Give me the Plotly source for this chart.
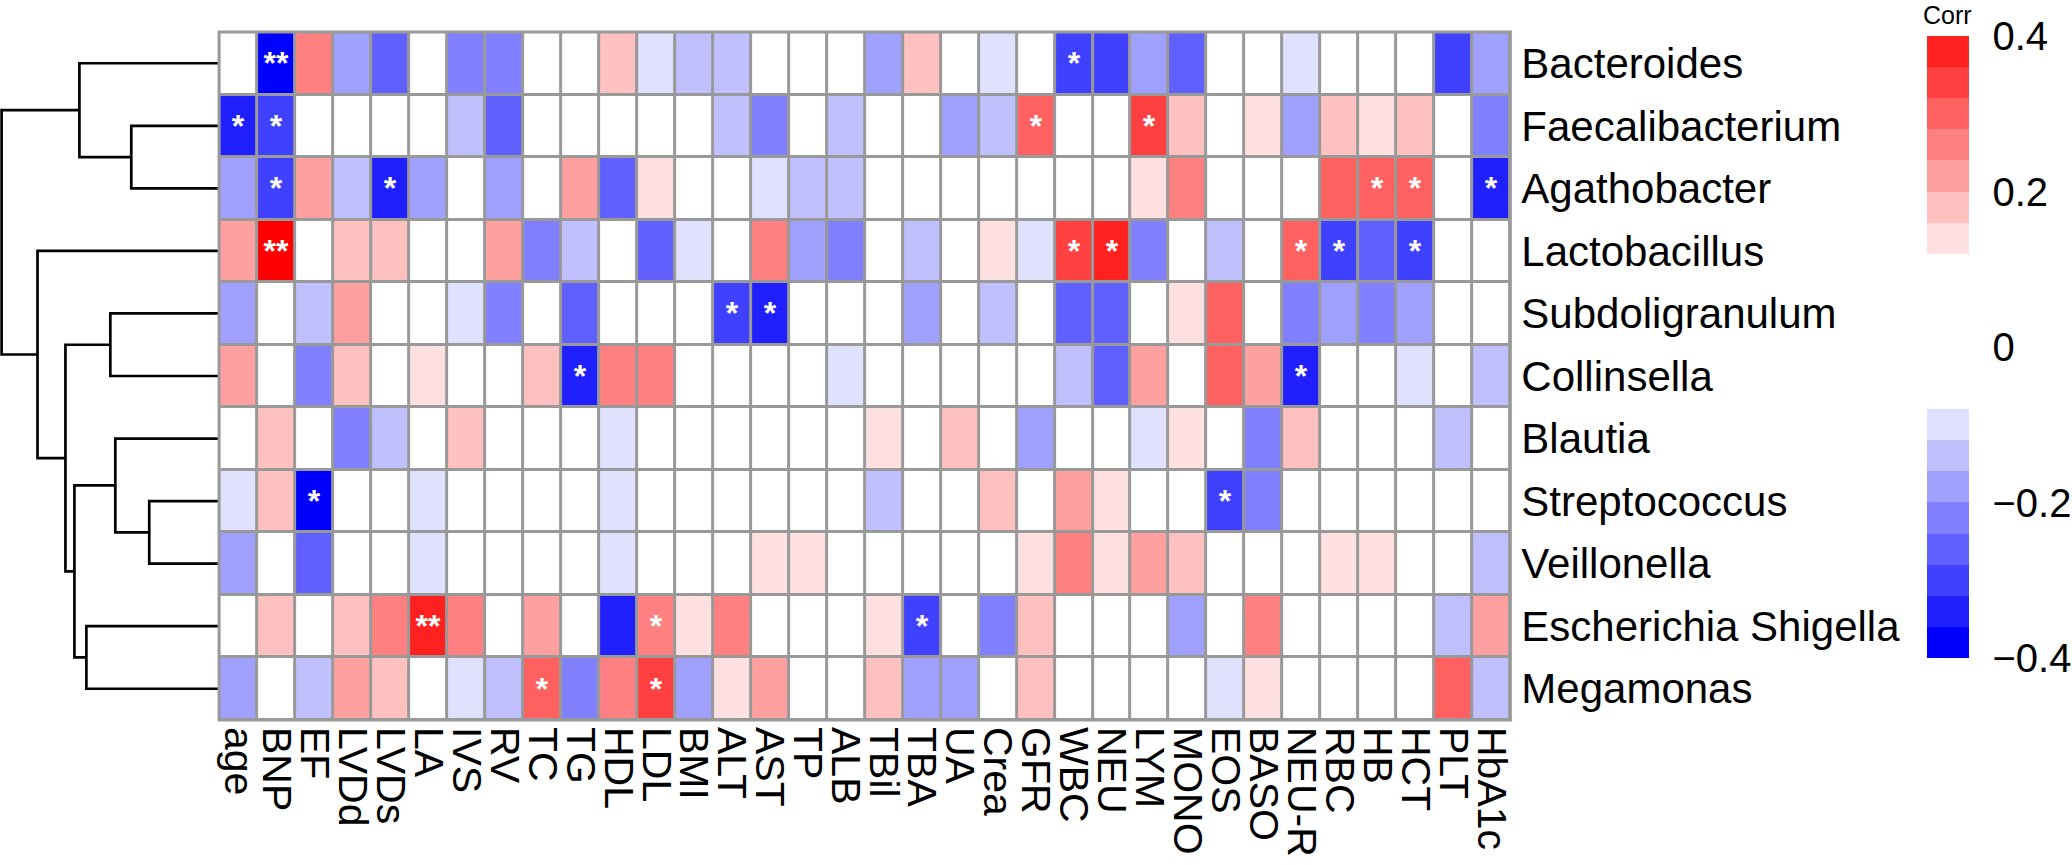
import plotly.graph_objects as go

# columns (clinical variables) and rows (genera), in display order
variables = ["age", "BNP", "EF", "LVDd", "LVDs", "LA", "IVS", "RV", "TC", "TG",
             "HDL", "LDL", "BMI", "ALT", "AST", "TP", "ALB", "TBil", "TBA", "UA",
             "Crea", "GFR", "WBC", "NEU", "LYM", "MONO", "EOS", "BASO", "NEU-R",
             "RBC", "HB", "HCT", "PLT", "HbA1c"]
genera = ["Bacteroides", "Faecalibacterium", "Agathobacter", "Lactobacillus",
          "Subdoligranulum", "Collinsella", "Blautia", "Streptococcus",
          "Veillonella", "Escherichia Shigella", "Megamonas"]

# correlation estimates (one list per genus)
bacteroides = [0, -0.38, 0.26, -0.18, -0.26, 0, -0.22, -0.22, 0, 0,
               0.18, -0.10, -0.14, -0.14, 0, 0, 0, -0.18, 0.18, 0,
               -0.10, 0, -0.30, -0.30, -0.18, -0.26, 0, 0, -0.10,
               0, 0, 0, -0.30, -0.18]
faecalibacterium = [-0.34, -0.30, 0, 0, 0, 0, -0.14, -0.26, 0, 0,
                    0, 0, 0, -0.14, -0.22, 0, -0.14, 0, 0, -0.18,
                    -0.14, 0.30, 0, 0, 0.34, 0.18, 0, 0.14, -0.18,
                    0.18, 0.14, 0.18, 0, -0.22]
agathobacter = [-0.18, -0.30, 0.22, -0.14, -0.34, -0.18, 0, -0.18, 0, 0.22,
                -0.26, 0.14, 0, 0, -0.10, -0.14, -0.14, 0, 0, 0,
                0, 0, 0, 0, 0.14, 0.26, 0, 0, 0,
                0.30, 0.30, 0.30, 0, -0.34]
lactobacillus = [0.22, 0.42, 0, 0.18, 0.18, 0, 0, 0.22, -0.22, -0.14,
                 0, -0.26, -0.10, 0, 0.26, -0.18, -0.22, 0, -0.14, 0,
                 0.14, -0.10, 0.34, 0.38, -0.22, 0, -0.14, 0, 0.30,
                 -0.30, -0.26, -0.30, 0, 0]
subdoligranulum = [-0.18, 0, -0.14, 0.22, 0, 0, -0.10, -0.22, 0, -0.26,
                   0, 0, 0, -0.30, -0.34, 0, 0, 0, -0.18, 0,
                   -0.14, 0, -0.26, -0.26, 0, 0.14, 0.30, 0, -0.22,
                   -0.18, -0.22, -0.18, 0, 0]
collinsella = [0.22, 0, -0.22, 0.18, 0, 0.14, 0, 0, 0.18, -0.34,
               0.26, 0.26, 0, 0, 0, 0, -0.10, 0, 0, 0,
               0, 0, -0.14, -0.26, 0.22, 0, 0.30, 0.22, -0.34,
               0, 0, -0.10, 0, -0.14]
blautia = [0, 0.18, 0, -0.22, -0.14, 0, 0.18, 0, 0, 0,
           -0.10, 0, 0, 0, 0, 0, 0, 0.14, 0, 0.18,
           0, -0.18, 0, 0, -0.10, 0.14, 0, -0.22, 0.18,
           0, 0, 0, -0.14, 0]
streptococcus = [-0.10, 0.18, -0.38, 0, 0, -0.10, 0, 0, 0, 0,
                 -0.10, 0, 0, 0, 0, 0, 0, -0.14, 0, 0,
                 0.18, 0, 0.22, 0.14, 0, 0, -0.30, -0.22, 0,
                 0, 0, 0, 0, 0]
veillonella = [-0.18, 0, -0.26, 0, 0, -0.10, 0, 0, 0, 0,
               -0.10, 0, 0, 0, 0.14, 0.14, 0, 0, 0, 0,
               0, 0.14, 0.26, 0.14, 0.22, 0.18, 0, 0, 0,
               0.14, 0.14, 0, 0, -0.14]
escherichia = [0, 0.18, 0, 0.18, 0.26, 0.38, 0.26, 0, 0.22, 0,
               -0.34, 0.26, 0.14, 0.26, 0, 0, 0, 0.14, -0.30, 0,
               -0.22, 0.18, 0, 0, 0, -0.18, 0, 0.26, 0,
               0, 0, 0, -0.14, 0.22]
megamonas = [-0.18, 0, -0.14, 0.22, 0.18, 0, -0.10, -0.14, 0.30, -0.22,
             0.26, 0.34, -0.18, 0.14, 0.22, 0, 0, 0.18, -0.18, -0.18,
             0, 0.18, 0, 0, 0, 0, -0.10, 0.14, 0,
             0, 0, 0, 0.30, -0.14]

# significance marks (genus, variable, mark)
signif = [
    ("Bacteroides", "BNP", "**"), ("Bacteroides", "WBC", "*"),
    ("Faecalibacterium", "age", "*"), ("Faecalibacterium", "BNP", "*"),
    ("Faecalibacterium", "GFR", "*"), ("Faecalibacterium", "LYM", "*"),
    ("Agathobacter", "BNP", "*"), ("Agathobacter", "LVDs", "*"),
    ("Agathobacter", "HB", "*"), ("Agathobacter", "HCT", "*"),
    ("Agathobacter", "HbA1c", "*"),
    ("Lactobacillus", "BNP", "**"), ("Lactobacillus", "WBC", "*"),
    ("Lactobacillus", "NEU", "*"), ("Lactobacillus", "NEU-R", "*"),
    ("Lactobacillus", "RBC", "*"), ("Lactobacillus", "HCT", "*"),
    ("Subdoligranulum", "ALT", "*"), ("Subdoligranulum", "AST", "*"),
    ("Collinsella", "TG", "*"), ("Collinsella", "NEU-R", "*"),
    ("Streptococcus", "EF", "*"), ("Streptococcus", "EOS", "*"),
    ("Escherichia Shigella", "LA", "**"), ("Escherichia Shigella", "LDL", "*"),
    ("Escherichia Shigella", "TBA", "*"),
    ("Megamonas", "TC", "*"), ("Megamonas", "LDL", "*"),
]

# row clustering: (left, right, height); leaves are row indices, "mN" = merge N
merges = [(7, 8, 70), (1, 2, 88), (6, "m0", 104), (4, 5, 109), (9, 10, 133),
          (0, "m1", 140), ("m2", "m4", 145), ("m3", "m6", 154), (3, "m7", 182),
          ("m5", "m8", 218)]

# colour bins of 0.04 from -0.40 (pheatmap style blue-white-red)
bin_colors = ["#0000FF", "#2020FF", "#4040FF", "#6060FF", "#8080FF", "#A0A0FF",
              "#C0C0FF", "#E0E0FF", "#FFFFFF", "#FFFFFF", "#FFFFFF", "#FFFFFF",
              "#FFFFFF", "#FFE0E0", "#FFC0C0", "#FFA0A0", "#FF8080", "#FF6060",
              "#FF4040", "#FF2020", "#FF0000"]


def step_scale(colors):
    n = len(colors)
    scale = []
    for i, c in enumerate(colors):
        scale.append([i / n, c])
        scale.append([(i + 1) / n, c])
    return scale


z = [bacteroides, faecalibacterium, agathobacter, lactobacillus, subdoligranulum,
     collinsella, blautia, streptococcus, veillonella, escherichia, megamonas]
text = [["" for _ in variables] for _ in genera]
for g, v, mark in signif:
    text[genera.index(g)][variables.index(v)] = mark

W, H = 2072, 865
FONT = "Liberation Sans, Arial, sans-serif"
GRID = "#999999"
left_px, right_px, top_px, bottom_px = 219.6, 1514, 32, 720
x0d, x1d = left_px / W, right_px / W
y0d, y1d = 1 - bottom_px / H, 1 - top_px / H

fig = go.Figure()

fig.add_trace(go.Heatmap(
    z=z, x=list(range(len(variables))), y=list(range(len(genera))),
    text=text, texttemplate="%{text}",
    textfont=dict(family=FONT, size=32, color="white", weight="bold"),
    colorscale=step_scale(bin_colors), zmin=-0.40, zmax=0.44,
    showscale=False, xgap=3, ygap=3, hoverinfo="skip",
))

# dendrogram lines built from the merge list
pos = {}
for i in range(len(genera)):
    pos[i] = (i, 0)
dx, dy = [], []
for k, (a, b, h) in enumerate(merges):
    ya, ha = pos[a]
    yb, hb = pos[b]
    dx += [ha, h, h, hb, None]
    dy += [ya, ya, yb, yb, None]
    pos["m%d" % k] = ((ya + yb) / 2, h)

fig.add_trace(go.Scatter(
    x=dx, y=dy, mode="lines", xaxis="x2", yaxis="y",
    line=dict(color="black", width=2.7), hoverinfo="skip", showlegend=False,
))

# legend colour bar (range -0.4 .. 0.4)
fig.add_trace(go.Scatter(
    x=[None], y=[None], mode="markers", showlegend=False, hoverinfo="skip",
    marker=dict(
        color=[0], cmin=-0.40, cmax=0.40,
        colorscale=step_scale(bin_colors[:-1]), showscale=True,
        colorbar=dict(
            x=1932 / W, xanchor="left", xpad=0,
            y=1 - 347 / H, yanchor="middle", ypad=0,
            thickness=42, lenmode="pixels", len=622,
            outlinewidth=0, ticks="outside", ticklen=16, tickcolor="white",
            tickvals=[-0.4, -0.2, 0, 0.2, 0.4],
            ticktext=["\u22120.4", "\u22120.2", "0", "0.2", "0.4"],
            tickfont=dict(family=FONT, size=40, color="black"),
        ),
    ),
))

n_col, n_row = len(variables), len(genera)
# grey cell borders: filled panel below the bricks, outline on top
fig.add_shape(type="rect", xref="paper", yref="paper", x0=x0d, x1=x1d,
              y0=y0d, y1=y1d, fillcolor=GRID, line=dict(width=0), layer="below")
fig.add_shape(type="rect", xref="paper", yref="paper", x0=x0d, x1=x1d,
              y0=y0d, y1=y1d, line=dict(color=GRID, width=3), layer="above")

fig.add_annotation(text="Corr", x=1952 / W, y=1 - 15 / H, xref="paper", yref="paper",
                   xanchor="center", yanchor="middle", showarrow=False,
                   font=dict(family=FONT, size=25, color="black"))

fig.update_layout(
    width=W, height=H,
    margin=dict(l=0, r=0, t=0, b=0),
    paper_bgcolor="white", plot_bgcolor="white",
    showlegend=False,
    xaxis=dict(
        domain=[x0d, x1d], range=[-0.5, n_col - 0.5],
        tickvals=list(range(n_col)), ticktext=variables, tickangle=90,
        tickfont=dict(family=FONT, size=41, color="black"),
        showgrid=False, zeroline=False, showline=False, ticks="",
        ticklabelstandoff=6, automargin=False, fixedrange=True,
    ),
    yaxis=dict(
        domain=[y0d, y1d], range=[n_row - 0.5, -0.5],
        tickvals=list(range(n_row)), ticktext=genera, side="right", anchor="x",
        tickfont=dict(family=FONT, size=42, color="black"),
        showgrid=False, zeroline=False, showline=False, ticks="",
        ticklabelstandoff=10, automargin=False, fixedrange=True,
    ),
    xaxis2=dict(
        domain=[0, x0d], range=[left_px, 0], anchor="y",
        visible=False, fixedrange=True,
    ),
)

# the page has no body margin, so the figure fills the window exactly
fig.write_html("out.html", config={"displayModeBar": False},
               post_script="document.body.style.margin = '0';")
